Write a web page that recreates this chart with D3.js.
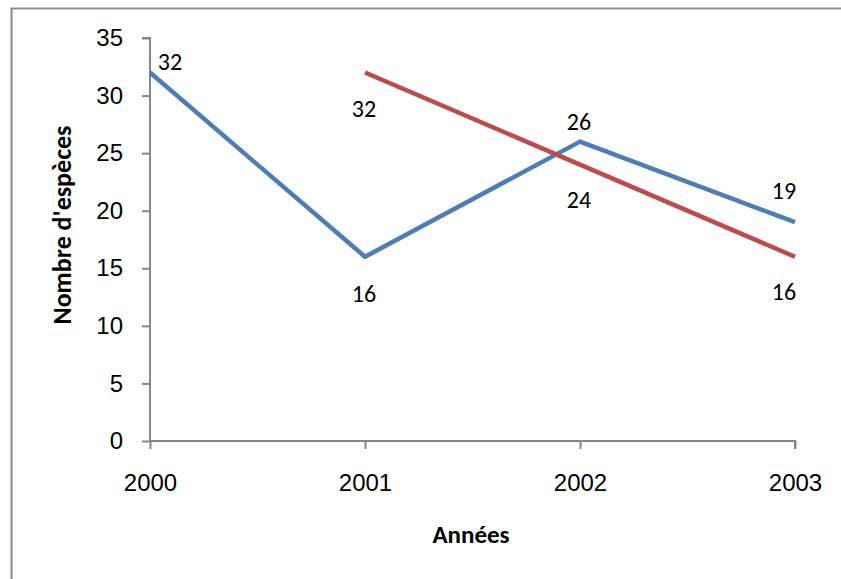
<!DOCTYPE html>
<html>
<head>
<meta charset="utf-8">
<script src="https://cdn.jsdelivr.net/npm/d3@7/dist/d3.min.js"></script>
<style>
  html, body { margin: 0; padding: 0; background: #fff; }
  svg { display: block; font-family: Carlito, Calibri, Lato, "Open Sans", sans-serif; }
</style>
</head>
<body>
<svg id="chart" width="841" height="579"></svg>
<script>
// Years on the x axis
const years = ["2000", "2001", "2002", "2003"];
// Number of species per year, two series (null = no observation)
const seriesA = [32, 16, 26, 19];
const seriesB = [null, 32, 24, 16];
const yTicks = [0, 5, 10, 15, 20, 25, 30, 35];

// Value-label offsets from each point (dx, baseline dy), in pixels
const labelOffsetA = [[20, -3], [-1, 45], [-1, -12], [-11, -23]];
const labelOffsetB = [null, [-1, 44], [-1, 43], [-11, 43]];

const svg = d3.select("#chart");
const axisColor = "#868686";
const fontSize = "24px";

// outer frame (runs off the right and bottom edge)
svg.append("rect")
  .attr("x", 11.5).attr("y", 8.5)
  .attr("width", 840).attr("height", 580)
  .attr("fill", "none").attr("stroke", "#8c8c8c").attr("stroke-width", 2);

const x = d3.scalePoint().domain(years).range([150, 795]);
const y = d3.scaleLinear().domain([0, 35]).range([441, 38]);

// y axis
const gy = svg.append("g").attr("transform", "translate(150,0)")
  .call(d3.axisLeft(y).tickValues(yTicks).tickSize(8).tickPadding(19));
// x axis
const gx = svg.append("g").attr("transform", "translate(0,441)")
  .call(d3.axisBottom(x).tickSize(8).tickPadding(25));

[gy, gx].forEach(g => {
  g.select(".domain").attr("stroke", axisColor).attr("stroke-width", 2);
  g.selectAll(".tick line").attr("stroke", axisColor).attr("stroke-width", 2);
  g.selectAll(".tick text").attr("fill", "#000").style("font-size", fontSize);
});
gy.select(".domain").attr("d", `M-8,${y(35)}H0V${y(0)}`);
gx.select(".domain").attr("d", `M${x("2000")},0H${x("2003")}V8`);

function drawSeries(vals, color, offsets) {
  const pts = years.map((yr, i) => ({ yr, v: vals[i], off: offsets[i] }))
    .filter(d => d.v !== null);
  svg.append("path").datum(pts)
    .attr("fill", "none").attr("stroke", color).attr("stroke-width", 4.5)
    .attr("stroke-linejoin", "round")
    .attr("d", d3.line().x(d => x(d.yr)).y(d => y(d.v)));
  svg.append("g").selectAll("text").data(pts).join("text")
    .attr("x", d => x(d.yr) + d.off[0])
    .attr("y", d => y(d.v) + d.off[1])
    .attr("text-anchor", "middle")
    .style("font-size", fontSize).attr("fill", "#000")
    .text(d => d.v);
}

drawSeries(seriesA, "#4a7ebb", labelOffsetA);
drawSeries(seriesB, "#be4b48", labelOffsetB);

// axis titles
svg.append("text")
  .attr("x", 471).attr("y", 543)
  .attr("text-anchor", "middle")
  .style("font-size", "25px").style("font-weight", "bold")
  .text("Années");
svg.append("text")
  .attr("transform", "translate(71,225) rotate(-90)")
  .attr("text-anchor", "middle")
  .style("font-size", "26px").style("font-weight", "bold")
  .text("Nombre d'espèces");
</script>
</body>
</html>
